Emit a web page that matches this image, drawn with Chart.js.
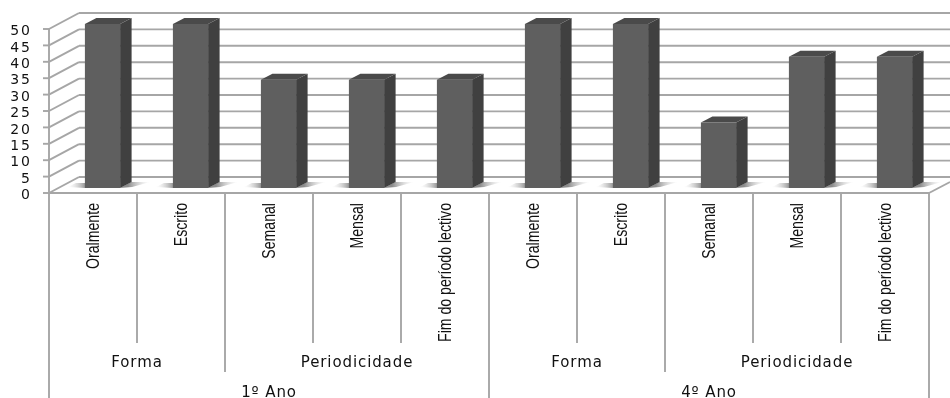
<!DOCTYPE html>
<html>
<head>
<meta charset="utf-8">
<style>
  html, body { margin: 0; padding: 0; background: #fff; }
  #wrap { width: 950px; height: 398px; }
  canvas { filter: blur(0.35px); }
</style>
<script src="https://cdn.jsdelivr.net/npm/chart.js@4"></script>
</head>
<body>
<div id="wrap"><canvas id="chart" width="950" height="398"></canvas></div>
<script>
const categories = ['Oralmente', 'Escrito', 'Semanal', 'Mensal', 'Fim do período lectivo',
  'Oralmente', 'Escrito', 'Semanal', 'Mensal', 'Fim do período lectivo'];
const values = [50, 50, 33, 33, 33, 50, 50, 20, 40, 40];
const groupLabels = ['Forma', 'Periodicidade', 'Forma', 'Periodicidade'];
const groupSpans = [[0, 2], [2, 5], [5, 7], [7, 10]];
const yearLabels = ['1º Ano', '4º Ano'];
const yearSpans = [[0, 5], [5, 10]];
const yTicks = [0, 5, 10, 15, 20, 25, 30, 35, 40, 45, 50];

const GRID = '#a6a6a6';
const WALL_X = 30, WALL_Y = 16;   // depth of the fake 3d box
const BAR_DX = 9.5, BAR_DY = 5;   // bars stand a little behind the front edge
const SIDE_X = 11.5, SIDE_Y = 6;
const LONGEST_LABEL_PX = 139;     // squeezed length of the longest rotated label

function line(ctx, x1, y1, x2, y2) {
  ctx.beginPath();
  ctx.moveTo(x1, y1);
  ctx.lineTo(x2, y2);
  ctx.stroke();
}

function drawWalls(chart) {
  const { ctx, scales: { y }, chartArea: area } = chart;
  ctx.save();
  ctx.strokeStyle = GRID;
  ctx.lineWidth = 1.9;
  yTicks.forEach(v => {
    const py = y.getPixelForValue(v);
    line(ctx, area.left, py, area.left + WALL_X, py - WALL_Y);
    line(ctx, area.left + WALL_X, py - WALL_Y, 950, py - WALL_Y);
    line(ctx, area.left - 6, py, area.left, py);
  });
  line(ctx, area.left, area.top, area.left, area.bottom);
  line(ctx, area.left, area.bottom, area.right, area.bottom);
  line(ctx, area.right, area.bottom, 950, area.bottom - 11);
  ctx.restore();
}

function drawYLabels(chart) {
  const { ctx, scales: { y } } = chart;
  ctx.save();
  ctx.fillStyle = '#111';
  ctx.font = '14px "DejaVu Sans"';
  ctx.letterSpacing = '2px'; // wide digits
  ctx.textAlign = 'right';
  ctx.textBaseline = 'middle';
  yTicks.forEach(v => {
    ctx.fillText(String(v), 32, y.getPixelForValue(v) + 2.5);
  });
  ctx.restore();
}

function drawFloorShadows(chart) {
  const { ctx } = chart;
  const meta = chart.getDatasetMeta(0);
  const bottom = chart.scales.y.getPixelForValue(0) - BAR_DY;
  ctx.save();
  meta.data.forEach(bar => {
    const left = bar.x - bar.width / 2 + BAR_DX;
    const right = bar.x + bar.width / 2 + BAR_DX;
    const g1 = ctx.createLinearGradient(right + 8, 0, right + 30, 0);
    g1.addColorStop(0, 'rgba(110,110,110,0.8)');
    g1.addColorStop(1, 'rgba(210,210,210,0)');
    ctx.fillStyle = g1;
    ctx.beginPath();
    ctx.moveTo(right, bottom);
    ctx.lineTo(right + 11, bottom - 6);
    ctx.lineTo(right + 30, bottom - 6);
    ctx.lineTo(right + 12, bottom - 1);
    ctx.closePath();
    ctx.fill();
    const g2 = ctx.createLinearGradient(left - 17, 0, left, 0);
    g2.addColorStop(0, 'rgba(210,210,210,0)');
    g2.addColorStop(1, 'rgba(110,110,110,0.7)');
    ctx.fillStyle = g2;
    ctx.beginPath();
    ctx.moveTo(left - 17, bottom - 1);
    ctx.lineTo(left - 9, bottom - 5);
    ctx.lineTo(left + 2, bottom - 5);
    ctx.lineTo(left, bottom);
    ctx.closePath();
    ctx.fill();
  });
  ctx.restore();
}

function drawBarDepth(chart) {
  const { ctx } = chart;
  const meta = chart.getDatasetMeta(0);
  meta.data.forEach(bar => {
    const l = bar.x - bar.width / 2;
    const r = bar.x + bar.width / 2;
    const t = bar.y;
    const b = bar.base;
    ctx.fillStyle = '#404040';
    ctx.beginPath();
    ctx.moveTo(r, t);
    ctx.lineTo(r + SIDE_X, t - SIDE_Y);
    ctx.lineTo(r + SIDE_X, b - SIDE_Y);
    ctx.lineTo(r, b);
    ctx.closePath();
    ctx.fill();
    ctx.fillStyle = '#4a4a4a';
    ctx.beginPath();
    ctx.moveTo(l, t);
    ctx.lineTo(l + SIDE_X, t - SIDE_Y);
    ctx.lineTo(r + SIDE_X, t - SIDE_Y);
    ctx.lineTo(r, t);
    ctx.closePath();
    ctx.fill();
  });
}

function drawCategoryLabels(chart) {
  const { ctx, scales: { x } } = chart;
  ctx.save();
  ctx.fillStyle = '#111';
  ctx.font = '18px "Liberation Sans"';
  ctx.textAlign = 'right';
  ctx.textBaseline = 'middle';
  const squeeze = LONGEST_LABEL_PX / ctx.measureText(categories[4]).width;
  categories.forEach((label, i) => {
    ctx.save();
    ctx.translate(x.getPixelForValue(i) + 1, 203);
    ctx.rotate(-Math.PI / 2);
    ctx.scale(squeeze, 1);
    ctx.fillText(label, 0, 0);
    ctx.restore();
  });
  ctx.restore();
}

function drawAxisLevels(chart) {
  const { ctx, chartArea: area } = chart;
  const step = (area.right - area.left) / categories.length;
  const edge = i => area.left + step * i;
  ctx.save();
  ctx.strokeStyle = GRID;
  ctx.lineWidth = 1.9;
  for (let i = 0; i <= categories.length; i++) {
    let end = 343;
    if (i === 2 || i === 7) end = 372;
    if (i === 0 || i === 5 || i === 10) end = 398;
    line(ctx, edge(i), area.bottom, edge(i), end);
  }
  ctx.fillStyle = '#111';
  ctx.font = '15px "DejaVu Sans"';
  ctx.letterSpacing = '0.9px';
  ctx.textAlign = 'center';
  ctx.textBaseline = 'middle';
  groupLabels.forEach((label, i) => {
    const [a, b] = groupSpans[i];
    ctx.fillText(label, (edge(a) + edge(b)) / 2, 363);
  });
  yearLabels.forEach((label, i) => {
    const [a, b] = yearSpans[i];
    ctx.fillText(label, (edge(a) + edge(b)) / 2, 393);
  });
  ctx.restore();
  drawCategoryLabels(chart);
  drawYLabels(chart);
}

const boxPlugin = {
  id: 'box3d',
  beforeDatasetsDraw(chart) {
    drawWalls(chart);
    drawFloorShadows(chart);
    chart.ctx.save();
    chart.ctx.translate(BAR_DX, -BAR_DY);
    drawBarDepth(chart);
  },
  afterDatasetsDraw(chart) {
    chart.ctx.restore();
    drawAxisLevels(chart);
  },
};

new Chart(document.getElementById('chart'), {
  type: 'bar',
  data: {
    labels: categories,
    datasets: [{
      data: values,
      backgroundColor: '#5f5f5f',
      barPercentage: 0.4,
      categoryPercentage: 1,
    }],
  },
  plugins: [boxPlugin],
  options: {
    responsive: false,
    animation: false,
    layout: { padding: { top: 29, right: 21, left: 0, bottom: 0 } },
    plugins: { legend: { display: false }, tooltip: { enabled: false } },
    scales: {
      x: {
        grid: { display: false },
        border: { display: false },
        afterFit: axis => { axis.height = 205; },
        ticks: { display: false, autoSkip: false },
      },
      y: {
        min: 0,
        max: 50,
        grid: { display: false },
        border: { display: false },
        afterFit: axis => { axis.width = 49; },
        ticks: { display: false, stepSize: 5 },
      },
    },
  },
});
</script>
</body>
</html>
